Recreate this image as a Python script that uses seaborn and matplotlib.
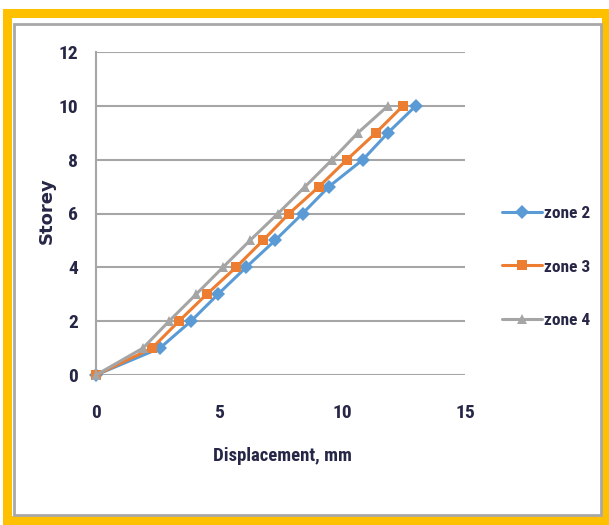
import matplotlib
matplotlib.use("Agg")
import matplotlib.pyplot as plt
from matplotlib import font_manager
from matplotlib.patches import Rectangle
import seaborn as sns
import pandas as pd

storey = [0, 1, 2, 3, 4, 5, 6, 7, 8, 9, 10]
zone2 = [0, 2.6, 3.86, 4.96, 6.1, 7.28, 8.4, 9.47, 10.85, 11.87, 13.0]
zone3 = [0, 2.28, 3.37, 4.5, 5.69, 6.79, 7.85, 9.07, 10.2, 11.38, 12.48]
zone4 = [0, 1.91, 2.97, 4.07, 5.16, 6.26, 7.4, 8.5, 9.6, 10.65, 11.87]
series_names = ["zone 2", "zone 3", "zone 4"]
x_ticks = [0, 5, 10, 15]
y_ticks = [0, 2, 4, 6, 8, 10, 12]

rows = []
for name, vals in zip(series_names, [zone2, zone3, zone4]):
    for s, d in zip(storey, vals):
        rows.append({"Displacement": d, "Storey": s, "zone": name})
df = pd.DataFrame(rows)

sns.set_style("white")
names = {f.name for f in font_manager.fontManager.ttflist}
fam = "DejaVu Sans"
for cand in ["Liberation Sans Narrow", "DejaVu Sans Condensed", "Roboto Condensed",
             "Open Sans Condensed", "Noto Sans Condensed"]:
    if cand in names:
        fam = cand
        break
stretch = "condensed"
plt.rcParams["font.family"] = [fam, "DejaVu Sans"]
plt.rcParams["font.stretch"] = stretch
txt = "#262646"

fig = plt.figure(figsize=(6.09, 5.25), dpi=100)
fig.patch.set_facecolor("white")
W, H = 609.0, 525.0
# yellow frame
fig.patches.append(Rectangle((6.5 / W, 1 - 520 / H), (606 - 6.5) / W, (520 - 12.5) / H,
                             transform=fig.transFigure, fill=False, edgecolor="#FFC000",
                             linewidth=6.5, zorder=0))
# gray inner frame
fig.patches.append(Rectangle((13.5 / W, 1 - 515 / H), (601 - 13.5) / W, (515 - 23.5) / H,
                             transform=fig.transFigure, fill=False, edgecolor="#A8A8A8",
                             linewidth=2, zorder=0))

ax = fig.add_axes([96 / W, 1 - 375 / H, (465 - 96) / W, (375 - 52) / H])
palette = {"zone 2": "#5B9BD5", "zone 3": "#ED7D31", "zone 4": "#A5A5A5"}
markers = {"zone 2": "D", "zone 3": "s", "zone 4": "^"}
sns.lineplot(data=df, x="Displacement", y="Storey", hue="zone", style="zone",
             palette=palette, markers=markers, dashes=False, sort=False,
             linewidth=2.2, markersize=7.5, markeredgewidth=0, ax=ax, legend=True)

ax.set_xlim(0, 15)
ax.set_ylim(0, 12)
ax.set_xticks(x_ticks)
ax.set_yticks(y_ticks)
ax.grid(axis="y", color="#A6A6A6", linewidth=1.5)
ax.set_axisbelow(True)
for side in ["top", "right", "bottom"]:
    ax.spines[side].set_visible(False)
ax.spines["left"].set_color("#A6A6A6")
ax.spines["left"].set_linewidth(1.5)
for l in ax.get_lines():
    l.set_clip_on(False)
ax.tick_params(axis="both", length=0, labelsize=14, colors=txt)
ax.tick_params(axis="x", pad=21)
ax.tick_params(axis="y", pad=13)
for lab in ax.get_xticklabels() + ax.get_yticklabels():
    lab.set_fontweight("bold")
    lab.set_fontstretch(stretch)
ax.set_xlabel("Displacement, mm", fontsize=13.5, fontweight="bold", color=txt,
              fontstretch=stretch)
ax.xaxis.set_label_coords((282 - 96) / (465 - 96), -(456 - 375) / (375 - 52))
ax.set_ylabel("Storey", fontsize=13, fontweight="bold", color=txt,
              family=["DejaVu Sans"], fontstretch="normal")
ax.yaxis.set_label_coords(-(96 - 47) / (465 - 96), (375 - 211) / (375 - 52))
ax.xaxis.label.set_va("center")
ax.yaxis.label.set_va("center")

handles, labels = ax.get_legend_handles_labels()
ax.legend(handles, labels, loc="center left", bbox_to_anchor=(486 / W, 1 - 267 / H),
          bbox_transform=fig.transFigure, frameon=False,
          labelspacing=2.2, handlelength=2.3, handletextpad=0.15,
          prop={"family": [fam, "DejaVu Sans"], "weight": "bold", "size": 12.5,
                "stretch": stretch})
for t in ax.get_legend().get_texts():
    t.set_color(txt)

fig.savefig("out.png", dpi=100)
